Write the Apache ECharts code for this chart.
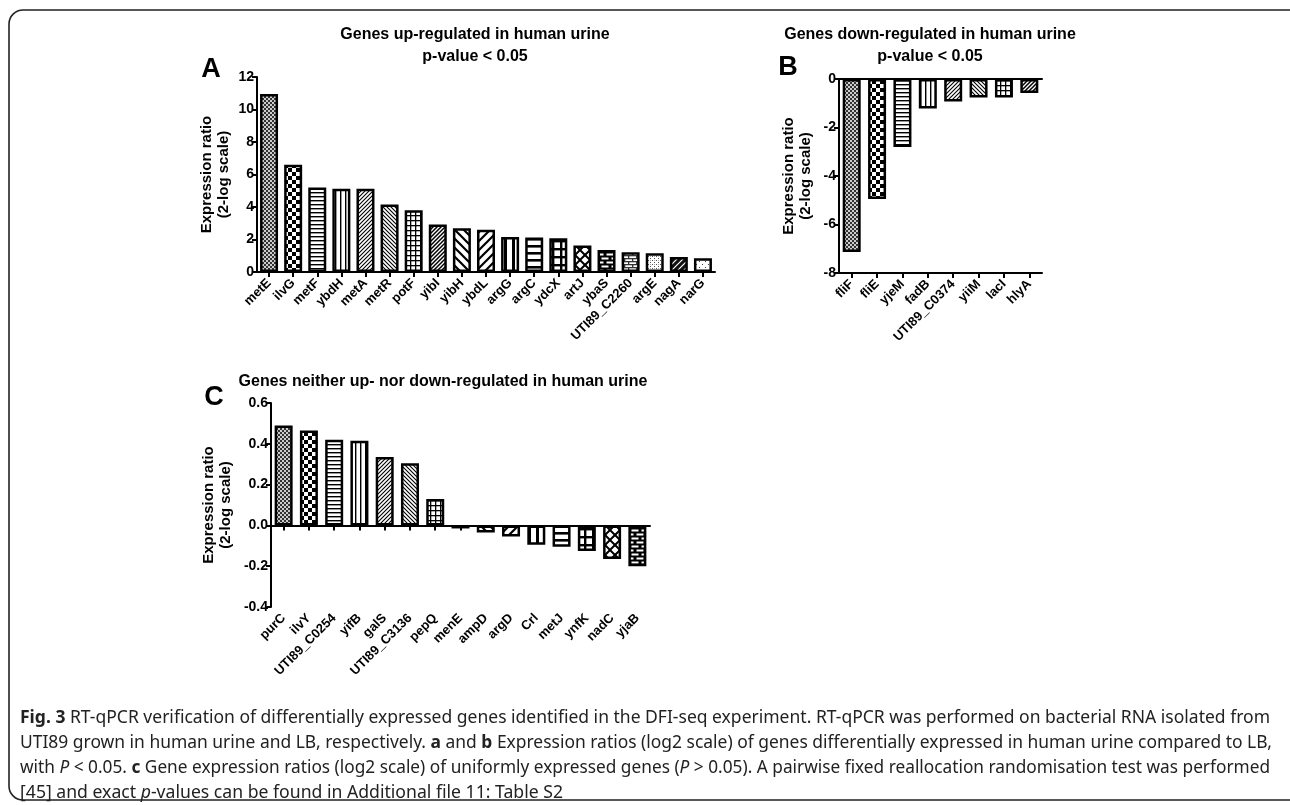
<!DOCTYPE html>
<html><head><meta charset="utf-8">
<script src="https://cdn.jsdelivr.net/npm/echarts@6/dist/echarts.min.js"></script>
<style>html,body{margin:0;padding:0;background:#fff}#c{width:1290px;height:805px}</style>
</head><body><div id="c"></div>
<script>
// ---------- DATA ----------
const genesA = ['metE','ilvG','metF','ybdH','metA','metR','potF','yibI','yibH','ybdL','argG','argC','ydcX','artJ','ybaS','UTI89_C2260','argE','nagA','narG'];
const valuesA = [10.95, 6.6, 5.2, 5.12, 5.12, 4.15, 3.8, 2.93, 2.7, 2.6, 2.15, 2.13, 2.08, 1.63, 1.35, 1.22, 1.15, 0.92, 0.85];
const genesB = ['fliF','fliE','yjeM','fadB','UTI89_C0374','yiiM','lacI','hlyA'];
const valuesB = [-7.13, -4.95, -2.8, -1.22, -0.93, -0.76, -0.76, -0.58];
const genesC = ['purC','ilvY','UTI89_C0254','yifB','galS','UTI89_C3136','pepQ','menE','ampD','argD','Crl','metJ','ynfK','nadC','yjaB'];
const valuesC = [0.49, 0.465, 0.42, 0.415, 0.335, 0.305, 0.13, -0.015, -0.035, -0.055, -0.095, -0.105, -0.125, -0.165, -0.2];
const ticksA = {min: 0, max: 12, interval: 2};
const ticksB = {min: -8, max: 0, interval: 2};
const ticksC = {min: -0.4, max: 0.6, interval: 0.2};

// ---------- PATTERNS ----------
function tile(w, h, fn, bg) {
  const c = document.createElement('canvas'); c.width = w; c.height = h;
  const g = c.getContext('2d');
  g.fillStyle = bg || '#fff'; g.fillRect(0, 0, w, h);
  g.fillStyle = '#000'; g.strokeStyle = '#000';
  fn(g, w, h);
  return {image: c, repeat: 'repeat'};
}
function diag(g, s, lw, dir, col) {
  g.strokeStyle = col || '#000'; g.lineWidth = lw; g.beginPath();
  if (dir > 0) {
    g.moveTo(0, s); g.lineTo(s, 0);
    g.moveTo(-s / 2, s / 2); g.lineTo(s / 2, -s / 2);
    g.moveTo(s / 2, s * 1.5); g.lineTo(s * 1.5, s / 2);
  } else {
    g.moveTo(0, 0); g.lineTo(s, s);
    g.moveTo(-s / 2, s / 2); g.lineTo(s / 2, s * 1.5);
    g.moveTo(s / 2, -s / 2); g.lineTo(s * 1.5, s / 2);
  }
  g.stroke();
}
const patterns = [
  tile(4, 4, g => { g.fillStyle = '#333'; g.fillRect(0, 0, 2, 2); g.fillRect(2, 2, 2, 2); g.fillStyle = '#ccc'; g.fillRect(2, 0, 2, 2); g.fillRect(0, 2, 2, 2); }),
  tile(8, 8, g => { g.fillRect(0, 0, 4, 4); g.fillRect(4, 4, 4, 4); }),
  tile(2, 4, g => { g.fillRect(0, 0, 2, 1.4); }),
  tile(5, 2, g => { g.fillRect(0, 0, 1.4, 2); }),
  tile(4, 4, g => diag(g, 4, 1.1, 1)),
  tile(4, 4, g => diag(g, 4, 1.1, -1)),
  tile(5, 5, g => { g.fillRect(0, 0, 5, 1.3); g.fillRect(0, 0, 1.3, 5); }),
  tile(4, 4, g => diag(g, 4, 1.5, 1)),
  tile(9, 9, g => diag(g, 9, 2.2, -1)),
  tile(9, 9, g => diag(g, 9, 2.2, 1)),
  tile(8, 2, g => { g.fillRect(0, 0, 3, 2); }),
  tile(2, 7, g => { g.fillRect(0, 0, 2, 2.6); }),
  tile(8, 8, g => { g.fillRect(0, 0, 8, 2.4); g.fillRect(0, 0, 2.4, 8); }),
  tile(10, 10, g => { diag(g, 10, 2, 1); diag(g, 10, 2, -1); }),
  tile(10, 8, g => { g.fillStyle = '#fff'; g.fillRect(1.5, 1.5, 7, 2); g.fillRect(-3.5, 5.5, 7, 2); g.fillRect(6.5, 5.5, 7, 2); }, '#000'),
  tile(8, 6, g => { g.fillStyle = '#333'; g.fillRect(0, 0, 8, 1.3); g.fillRect(0, 3, 8, 1.3); g.fillRect(0, 0, 1.3, 3); g.fillRect(4, 3, 1.3, 3); }),
  tile(4, 4, g => { g.fillStyle = '#555'; g.fillRect(0, 0, 1, 1); g.fillRect(2, 2, 1, 1); g.fillStyle = '#aaa'; g.fillRect(2, 0, 1, 1); }),
  tile(6, 6, g => { diag(g, 6, 1.2, 1, '#fff'); }, '#111'),
  tile(6, 6, g => { g.fillStyle = '#444'; g.fillRect(0, 0, 1, 1); g.fillRect(3, 3, 1, 1); })
];
function mk(vals) {
  return vals.map((v, i) => ({value: v, itemStyle: {color: patterns[i]}}));
}

// ---------- STYLES ----------
const FF = '"Liberation Sans", Arial, Helvetica, sans-serif';
const axLine = {show: true, lineStyle: {color: '#000', width: 2}};
const axTick = {show: true, length: 5, inside: false, interval: 0, lineStyle: {color: '#000', width: 2}};
const tickLbl = {color: '#000', fontFamily: FF, fontWeight: 'bold', fontSize: 14, margin: 3};
const catLbl = {color: '#000', fontFamily: FF, fontWeight: 'bold', fontSize: 13, rotate: 45, margin: 9, interval: 0};
const nameStyle = {color: '#000', fontFamily: FF, fontWeight: 'bold', fontSize: 15, lineHeight: 17};
const yName = 'Expression ratio\n(2-log scale)';
const barCommon = {type: 'bar', barWidth: 18, itemStyle: {borderColor: '#000', borderWidth: 2.5}, animation: false, silent: true};

const chart = echarts.init(document.getElementById('c'), null, {renderer: 'canvas'});
const option = {
  animation: false,
  backgroundColor: '#fff',
  grid: [
    {left: 257, top: 77, width: 458, height: 195},
    {left: 839, top: 79, width: 203, height: 194},
    {left: 271, top: 403, width: 379, height: 204}
  ],
  xAxis: [
    {type: 'category', gridIndex: 0, data: genesA, axisLine: axLine, axisTick: Object.assign({}, axTick, {alignWithLabel: true}), axisLabel: catLbl, splitLine: {show: false}},
    {type: 'category', gridIndex: 1, data: genesB, axisLine: Object.assign({onZero: false}, axLine), axisTick: Object.assign({}, axTick, {alignWithLabel: true}), axisLabel: catLbl, splitLine: {show: false}},
    {type: 'category', gridIndex: 1, data: genesB, position: 'top', axisLine: Object.assign({onZero: false}, axLine), axisTick: {show: false}, axisLabel: {show: false}, splitLine: {show: false}},
    {type: 'category', gridIndex: 2, data: genesC, axisLine: {show: false, onZero: false}, axisTick: {show: false}, axisLabel: catLbl, splitLine: {show: false}},
    {type: 'category', gridIndex: 2, data: genesC, position: 'bottom', axisLine: Object.assign({onZero: true}, axLine), axisTick: Object.assign({}, axTick, {alignWithLabel: true}), axisLabel: {show: false, interval: 0}, splitLine: {show: false}}
  ],
  yAxis: [
    {type: 'value', gridIndex: 0, min: ticksA.min, max: ticksA.max, interval: ticksA.interval, axisLine: axLine, axisTick: axTick, axisLabel: tickLbl, splitLine: {show: false},
     name: yName, nameLocation: 'middle', nameGap: 25, nameTextStyle: nameStyle},
    {type: 'value', gridIndex: 1, min: ticksB.min, max: ticksB.max, interval: ticksB.interval, axisLine: axLine, axisTick: axTick, axisLabel: tickLbl, splitLine: {show: false},
     name: yName, nameLocation: 'middle', nameGap: 25, nameTextStyle: nameStyle},
    {type: 'value', gridIndex: 2, min: ticksC.min, max: ticksC.max, interval: ticksC.interval, axisLine: axLine, axisTick: axTick,
     axisLabel: Object.assign({formatter: v => v.toFixed(1)}, tickLbl), splitLine: {show: false},
     name: yName, nameLocation: 'middle', nameGap: 37, nameTextStyle: nameStyle}
  ],
  series: [
    Object.assign({xAxisIndex: 0, yAxisIndex: 0, data: mk(valuesA)}, barCommon),
    Object.assign({xAxisIndex: 1, yAxisIndex: 1, data: mk(valuesB)}, barCommon),
    Object.assign({xAxisIndex: 3, yAxisIndex: 2, data: mk(valuesC)}, barCommon)
  ],
  graphic: [
    {type: 'rect', shape: {x: 9, y: 10, width: 1300, height: 790, r: 14}, style: {fill: 'none', stroke: '#222', lineWidth: 1.6}, silent: true},
    {type: 'text', x: 475, y: 35, style: {text: 'Genes up-regulated in human urine', font: 'bold 16px ' + FF, fill: '#000', align: 'center', verticalAlign: 'middle'}},
    {type: 'text', x: 475, y: 57, style: {text: 'p-value < 0.05', font: 'bold 16px ' + FF, fill: '#000', align: 'center', verticalAlign: 'middle'}},
    {type: 'text', x: 930, y: 35, style: {text: 'Genes down-regulated in human urine', font: 'bold 16px ' + FF, fill: '#000', align: 'center', verticalAlign: 'middle'}},
    {type: 'text', x: 930, y: 57, style: {text: 'p-value < 0.05', font: 'bold 16px ' + FF, fill: '#000', align: 'center', verticalAlign: 'middle'}},
    {type: 'text', x: 443, y: 382, style: {text: 'Genes neither up- nor down-regulated in human urine', font: 'bold 16px ' + FF, fill: '#000', align: 'center', verticalAlign: 'middle'}},
    {type: 'text', x: 211, y: 70, style: {text: 'A', font: 'bold 27px ' + FF, fill: '#000', align: 'center', verticalAlign: 'middle'}},
    {type: 'text', x: 788, y: 68, style: {text: 'B', font: 'bold 27px ' + FF, fill: '#000', align: 'center', verticalAlign: 'middle'}},
    {type: 'text', x: 214, y: 398, style: {text: 'C', font: 'bold 27px ' + FF, fill: '#000', align: 'center', verticalAlign: 'middle'}}
  ]
};

// ---------- CAPTION ----------
const CFAM = '"Noto Sans", "Open Sans", sans-serif';
const CSIZE = 18;
const capFonts = {
  n: 'normal normal ' + CSIZE + 'px ' + CFAM,
  b: 'normal bold ' + CSIZE + 'px ' + CFAM,
  i: 'italic normal ' + CSIZE + 'px ' + CFAM
};
const capRich = {
  n: {fontFamily: CFAM, fontSize: CSIZE, color: '#222'},
  b: {fontFamily: CFAM, fontSize: CSIZE, fontWeight: 'bold', color: '#222'},
  i: {fontFamily: CFAM, fontSize: CSIZE, fontStyle: 'italic', color: '#222'}
};
const capLines = [
  [['Fig. 3', 'b'], [' RT-qPCR verification of differentially expressed genes identified in the DFI-seq experiment. RT-qPCR was performed on bacterial RNA isolated from', 'n']],
  [['UTI89 grown in human urine and LB, respectively. ', 'n'], ['a', 'b'], [' and ', 'n'], ['b', 'b'], [' Expression ratios (log2 scale) of genes differentially expressed in human urine compared to LB,', 'n']],
  [['with ', 'n'], ['P', 'i'], [' < 0.05. ', 'n'], ['c', 'b'], [' Gene expression ratios (log2 scale) of uniformly expressed genes (', 'n'], ['P', 'i'], [' > 0.05). A pairwise fixed reallocation randomisation test was performed', 'n']],
  [['[45] and exact ', 'n'], ['p', 'i'], ['-values can be found in Additional file 11: Table S2', 'n']]
];
const capY = [718, 743, 768, 793];
const capWidth = [1250, 1252, 1250, 543];
const mctx = document.createElement('canvas').getContext('2d');
capLines.forEach((segs, k) => {
  let w = 0;
  segs.forEach(s => { mctx.font = capFonts[s[1]]; w += mctx.measureText(s[0]).width; });
  const text = segs.map(s => '{' + s[1] + '|' + s[0] + '}').join('');
  option.graphic.push({type: 'text', x: 20, y: capY[k], scaleX: capWidth[k] / w,
    style: {text: text, rich: capRich, fill: '#222', verticalAlign: 'middle', align: 'left'}});
});

chart.setOption(option);
</script>
</body></html>
